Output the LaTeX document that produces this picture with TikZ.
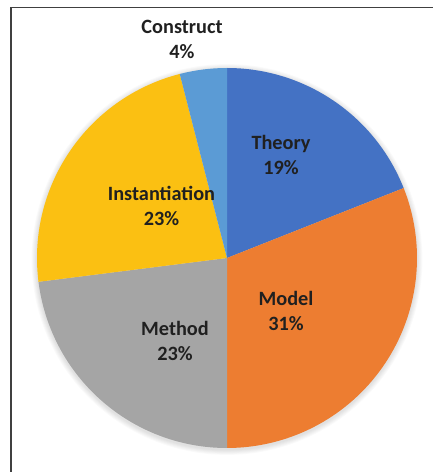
\documentclass[tikz,border=0pt]{standalone}
\usepackage{fontspec}
\setmainfont{Carlito}
\definecolor{ctheory}{HTML}{4472C4}
\definecolor{cmodel}{HTML}{ED7D31}
\definecolor{cmethod}{HTML}{A5A5A5}
\definecolor{cinst}{HTML}{FBC012}
\definecolor{cconstr}{HTML}{5B9BD5}
\definecolor{ctext}{HTML}{202020}
\definecolor{cframe}{HTML}{404040}
\begin{document}
\begin{tikzpicture}[x=1pt,y=1pt,
  lbl/.style={align=center,text=ctext,font=\fontsize{20.3}{25}\selectfont\bfseries,inner sep=0pt}]
\useasboundingbox (0,0) rectangle (433,472);
\fill[white] (0,0) rectangle (433,472);
\draw[cframe,line width=1.3pt] (11,0) -- (11,464.5) -- (433,464.5);
\coordinate (c) at (227,214);
% soft shadow
\foreach \k in {1,...,6}{
  \fill[black,opacity=0.02] (227,212.5) circle ({190+\k*0.9});
}
\fill[ctheory] (c) -- ++(90:190) arc[start angle=90,end angle=21.6,radius=190] -- cycle;
\fill[cmodel] (c) -- ++(21.6:190) arc[start angle=21.6,end angle=-90,radius=190] -- cycle;
\fill[cmethod] (c) -- ++(-90:190) arc[start angle=-90,end angle=-172.8,radius=190] -- cycle;
\fill[cinst] (c) -- ++(-172.8:190) arc[start angle=-172.8,end angle=-255.6,radius=190] -- cycle;
\fill[cconstr] (c) -- ++(-255.6:190) arc[start angle=-255.6,end angle=-270,radius=190] -- cycle;
\node[lbl] (lconstr) at (182,433) {Construct\\4\%};
\node[lbl] (ltheory) at (281,317) {Theory\\19\%};
\node[lbl] (linst) at (161.5,266) {Instantiation\\23\%};
\node[lbl] (lmodel) at (286,161.5) {Model\\31\%};
\node[lbl] (lmethod) at (175,131.5) {Method\\23\%};
\end{tikzpicture}
\end{document}
